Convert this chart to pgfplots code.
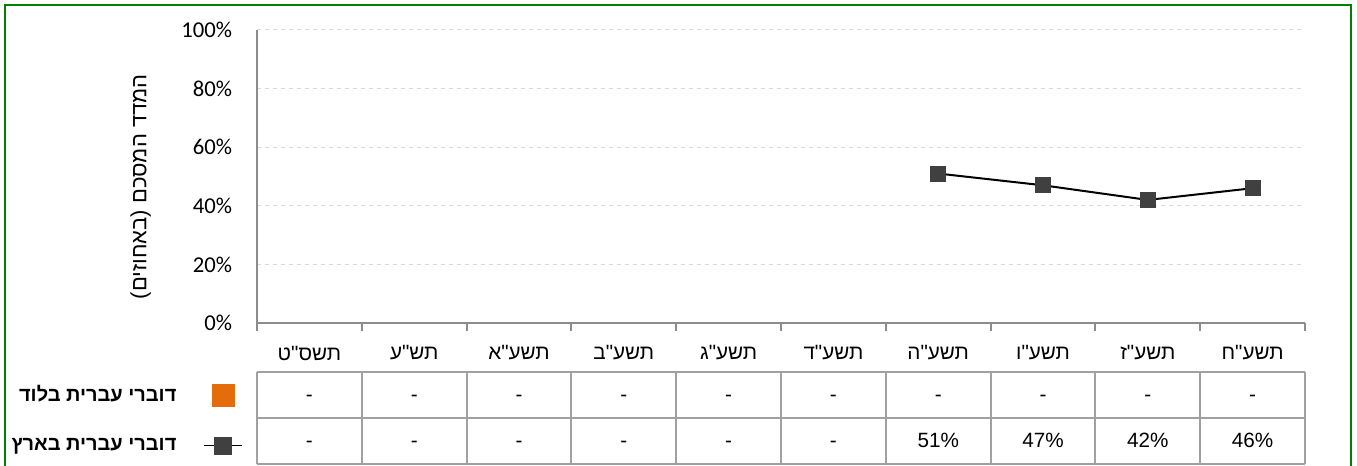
\documentclass[border=0pt]{standalone}
\usepackage{fontspec}
\usepackage{pgfplots}
\pgfplotsset{compat=1.18}
\setmainfont{Liberation Sans}
\newfontfamily\heb[Script=Hebrew]{Liberation Sans}
\newfontfamily\calibri{Carlito}
\TeXXeTstate=1
\newcommand{\R}[1]{{\heb\beginR #1\endR}}
\definecolor{axisgray}{HTML}{8C8C8C}
\definecolor{gridgray}{HTML}{D9D9D9}
\definecolor{tblgray}{HTML}{A0A0A0}
\definecolor{orng}{HTML}{E46C0A}
\definecolor{markc}{HTML}{404040}
\definecolor{framegreen}{HTML}{008000}

\begin{document}
\begin{tikzpicture}
\begin{axis}[
    name=ax, scale only axis, width=786pt, height=219.75pt,
    xmin=0, xmax=10, ymin=0, ymax=100, clip=false,
    axis x line*=bottom, axis y line*=left,
    axis line style={axisgray, line width=1.5pt},
    major tick length=0pt, minor tick length=6pt, tick align=outside,
    xtick={0.5,1.5,...,9.5},
    xticklabels={\R{תשס"ט},\R{תש"ע},\R{תשע"א},\R{תשע"ב},\R{תשע"ג},\R{תשע"ד},\R{תשע"ה},\R{תשע"ו},\R{תשע"ז},\R{תשע"ח}},
    minor xtick={0,1,...,10},
    minor x tick style={axisgray, line width=1.5pt},
    xticklabel style={font=\fontsize{15.5}{16}\selectfont, anchor=center, inner sep=0pt, yshift=-22.5pt},
    ytick={0,20,...,100},
    yticklabels={0\%,20\%,40\%,60\%,80\%,100\%},
    yticklabel style={font=\calibri\fontsize{17}{17}\selectfont, anchor=east, inner sep=0pt, xshift=-18.5pt},
    ymajorgrids, grid style={gridgray, dashed, line width=0.75pt},
    ylabel={{\heb\beginR המדד המסכם (באחוזים)\endR}},
    ylabel style={font=\fontsize{16.5}{17}\selectfont, at={(axis description cs:-0.111,0.465)}, anchor=center},
    legend plot pos=right,
    legend cell align=right,
    legend style={at={(axis description cs:-0.0134,-0.204)}, anchor=north east, draw=none, fill=none,
        font=\bfseries\fontsize{15}{16}\selectfont, row sep=22pt, inner sep=0pt, column sep=18pt},
    legend image code/.code={\draw[mark repeat=2, mark phase=2, #1] plot coordinates {(0pt,0pt) (14.25pt,0pt) (28.5pt,0pt)};},
]
\addplot[forget plot, black, line width=1.5pt, mark=square*, mark size=5.25pt,
    mark options={fill=markc, draw=markc}]
    coordinates {(6.5,51) (7.5,47) (8.5,42) (9.5,46)};

\addlegendimage{only marks, mark=square*, mark size=8.25pt, mark options={fill=orng, draw=orng}}
\addlegendentry{\R{דוברי עברית בלוד}}
\addlegendimage{black, line width=1.2pt, mark=square*, mark size=6.25pt, mark options={fill=markc, draw=markc}}
\addlegendentry{\R{דוברי עברית בארץ}}

% data table under the axis
\draw[tblgray, line width=1.5pt] (axis cs:0,-16.7) -- (axis cs:10,-16.7);
\draw[tblgray, line width=1.5pt] (axis cs:0,-32.4) -- (axis cs:10,-32.4);
\draw[tblgray, line width=1.5pt] (axis cs:0,-48.1) -- (axis cs:10,-48.1);
\pgfplotsinvokeforeach{0,...,10}{
  \draw[tblgray, line width=1.5pt] (axis cs:#1,-16.7) -- (axis cs:#1,-48.1);
}
\pgfplotsinvokeforeach{0.5,1.5,...,9.5}{
  \node[anchor=base, font=\fontsize{15.5}{16}\selectfont] at (axis cs:#1,-26.96) {-};
}
\pgfplotsinvokeforeach{0.5,1.5,...,5.5}{
  \node[anchor=base, font=\fontsize{15.5}{16}\selectfont] at (axis cs:#1,-42.66) {-};
}
\node[anchor=base, font=\fontsize{15.5}{16}\selectfont] at (axis cs:6.5,-42.66) {51\%};
\node[anchor=base, font=\fontsize{15.5}{16}\selectfont] at (axis cs:7.5,-42.66) {47\%};
\node[anchor=base, font=\fontsize{15.5}{16}\selectfont] at (axis cs:8.5,-42.66) {42\%};
\node[anchor=base, font=\fontsize{15.5}{16}\selectfont] at (axis cs:9.5,-42.66) {46\%};
\end{axis}
\draw[framegreen, line width=1.5pt] ([shift={(-189pt,-115pt)}]ax.south west) -- ++(0,353.5pt) -- ++(1009.5pt,0) -- ++(0,-353.5pt);
\pgfresetboundingbox
\useasboundingbox ([shift={(-192.75pt,-107.25pt)}]ax.south west) rectangle ++(1017.75pt,349.5pt);
\end{tikzpicture}
\end{document}
